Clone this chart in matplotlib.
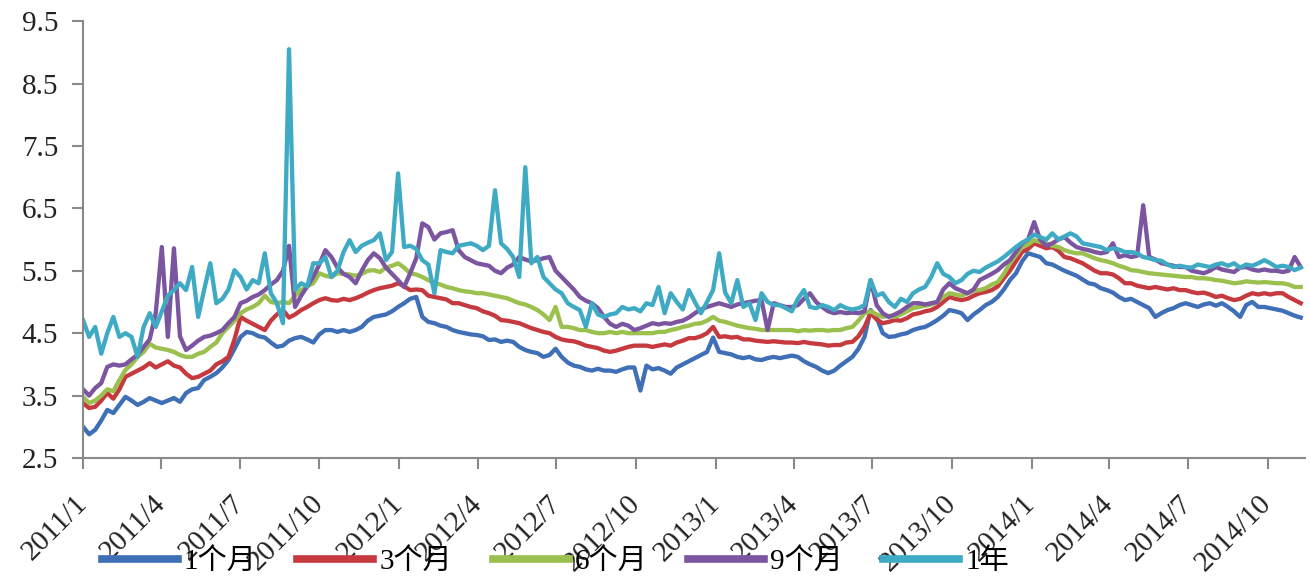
import numpy as np
import pandas as pd
import matplotlib
matplotlib.use('Agg')
import matplotlib.pyplot as plt
import matplotlib.dates as mdates
from matplotlib.ticker import FuncFormatter

# weekly observations, 2011-01-01 .. 2014-11-09
dates = pd.date_range('2011-01-01', periods=202, freq='7D')

m1 = [3.0, 2.88, 2.95, 3.1, 3.27, 3.22, 3.35, 3.48, 3.42, 3.35, 3.4, 3.46, 3.42,
      3.38, 3.42, 3.46, 3.4, 3.54, 3.6, 3.62, 3.75, 3.8, 3.86, 3.95, 4.07, 4.25,
      4.44, 4.52, 4.5, 4.45, 4.43, 4.35, 4.28, 4.3, 4.38, 4.42, 4.44, 4.4, 4.35,
      4.48, 4.55, 4.55, 4.52, 4.55, 4.52, 4.55, 4.6, 4.7, 4.76, 4.78, 4.8, 4.85,
      4.92, 4.98, 5.05, 5.08, 4.76, 4.68, 4.66, 4.62, 4.6, 4.55, 4.52, 4.5, 4.48,
      4.47, 4.45, 4.39, 4.4, 4.36, 4.38, 4.36, 4.28, 4.23, 4.2, 4.18, 4.12, 4.15,
      4.25, 4.12, 4.03, 3.98, 3.96, 3.92, 3.9, 3.93, 3.9, 3.9, 3.88, 3.92, 3.95,
      3.95, 3.58, 3.98, 3.92, 3.94, 3.9, 3.85, 3.95, 4.0, 4.05, 4.1, 4.15, 4.2,
      4.43, 4.2, 4.18, 4.16, 4.12, 4.1, 4.12, 4.08, 4.07, 4.1, 4.12, 4.1, 4.12,
      4.14, 4.12, 4.05, 4.0, 3.96, 3.9, 3.86, 3.9, 3.98, 4.05, 4.12, 4.25, 4.44,
      4.87, 4.75, 4.5, 4.44, 4.45, 4.48, 4.5, 4.55, 4.58, 4.6, 4.65, 4.71, 4.78,
      4.87, 4.85, 4.82, 4.71, 4.8, 4.87, 4.95, 5.0, 5.08, 5.2, 5.35, 5.46, 5.65,
      5.78, 5.75, 5.72, 5.62, 5.6, 5.55, 5.5, 5.46, 5.42, 5.36, 5.3, 5.28, 5.22,
      5.19, 5.15, 5.08, 5.03, 5.05, 5.0, 4.95, 4.9, 4.76, 4.82, 4.87, 4.9, 4.95,
      4.98, 4.95, 4.92, 4.96, 4.98, 4.94, 4.98, 4.92, 4.85, 4.76, 4.95, 5.0, 4.92,
      4.92, 4.9, 4.88, 4.86, 4.82, 4.78, 4.75]

m3 = [3.38, 3.3, 3.32, 3.42, 3.54, 3.45, 3.6, 3.8, 3.85, 3.9, 3.95, 4.02, 3.95,
      4.0, 4.05, 3.98, 3.95, 3.85, 3.78, 3.8, 3.85, 3.9, 4.0, 4.05, 4.12, 4.4,
      4.76, 4.7, 4.65, 4.6, 4.55, 4.7, 4.8, 4.87, 4.75, 4.8, 4.87, 4.92, 4.98,
      5.03, 5.06, 5.03, 5.02, 5.05, 5.03, 5.06, 5.1, 5.15, 5.19, 5.22, 5.24, 5.26,
      5.3, 5.25, 5.19, 5.2, 5.19, 5.1, 5.08, 5.06, 5.04, 4.98, 4.98, 4.95, 4.92,
      4.9, 4.85, 4.82, 4.78, 4.71, 4.7, 4.68, 4.66, 4.62, 4.58, 4.55, 4.52, 4.5,
      4.44, 4.4, 4.38, 4.37, 4.34, 4.3, 4.28, 4.26, 4.22, 4.2, 4.22, 4.25, 4.28,
      4.3, 4.3, 4.3, 4.28, 4.3, 4.32, 4.3, 4.35, 4.38, 4.42, 4.42, 4.45, 4.5,
      4.6, 4.44, 4.45, 4.43, 4.44, 4.4, 4.4, 4.38, 4.37, 4.36, 4.37, 4.36, 4.35,
      4.35, 4.34, 4.36, 4.34, 4.33, 4.32, 4.3, 4.31, 4.31, 4.35, 4.36, 4.45, 4.6,
      4.82, 4.72, 4.66, 4.68, 4.71, 4.7, 4.74, 4.8, 4.82, 4.85, 4.87, 4.92, 5.0,
      5.08, 5.05, 5.03, 5.05, 5.1, 5.14, 5.16, 5.19, 5.25, 5.38, 5.5, 5.65, 5.8,
      5.85, 5.94, 5.9, 5.86, 5.88, 5.82, 5.72, 5.7, 5.66, 5.62, 5.56, 5.5, 5.46,
      5.46, 5.44, 5.38, 5.3, 5.3, 5.26, 5.24, 5.22, 5.24, 5.22, 5.2, 5.22, 5.19,
      5.19, 5.16, 5.14, 5.15, 5.12, 5.08, 5.1, 5.06, 5.03, 5.05, 5.1, 5.14, 5.12,
      5.14, 5.12, 5.14, 5.14, 5.08, 5.03, 4.98]

m6 = [3.48, 3.38, 3.42, 3.5, 3.6, 3.57, 3.75, 3.91, 4.0, 4.12, 4.2, 4.33, 4.27,
      4.25, 4.23, 4.2, 4.15, 4.12, 4.12, 4.17, 4.2, 4.28, 4.35, 4.5, 4.6, 4.7,
      4.82, 4.88, 4.92, 4.98, 5.1, 5.0, 4.98, 5.0, 4.98, 5.1, 5.19, 5.25, 5.3,
      5.46, 5.42, 5.4, 5.46, 5.45, 5.44, 5.42, 5.45, 5.5, 5.51, 5.48, 5.55, 5.58,
      5.62, 5.55, 5.46, 5.44, 5.4, 5.35, 5.3, 5.28, 5.24, 5.22, 5.19, 5.17, 5.16,
      5.14, 5.14, 5.12, 5.1, 5.08, 5.06, 5.02, 4.98, 4.96, 4.92, 4.87, 4.8, 4.71,
      4.92, 4.6, 4.6, 4.58, 4.55, 4.55, 4.52, 4.5, 4.5, 4.52, 4.5, 4.52, 4.5,
      4.5, 4.5, 4.5, 4.5, 4.52, 4.52, 4.55, 4.57, 4.6, 4.62, 4.65, 4.66, 4.7,
      4.76, 4.7, 4.68, 4.65, 4.62, 4.6, 4.58, 4.57, 4.55, 4.55, 4.55, 4.55, 4.55,
      4.55, 4.53, 4.55, 4.54, 4.55, 4.55, 4.54, 4.55, 4.55, 4.58, 4.6, 4.7, 4.82,
      4.85, 4.8, 4.76, 4.78, 4.76, 4.8, 4.85, 4.9, 4.92, 4.94, 4.96, 5.0, 5.08,
      5.14, 5.12, 5.1, 5.14, 5.18, 5.19, 5.22, 5.28, 5.32, 5.45, 5.62, 5.75, 5.88,
      5.92, 5.99, 5.96, 5.94, 5.9, 5.88, 5.83, 5.8, 5.78, 5.78, 5.74, 5.7, 5.67,
      5.65, 5.62, 5.58, 5.55, 5.51, 5.5, 5.48, 5.46, 5.45, 5.44, 5.43, 5.42, 5.41,
      5.4, 5.4, 5.38, 5.38, 5.37, 5.35, 5.34, 5.32, 5.3, 5.31, 5.33, 5.32, 5.31,
      5.32, 5.31, 5.3, 5.3, 5.28, 5.24, 5.24]

m9 = [3.6, 3.5, 3.62, 3.7, 3.96, 4.0, 3.98, 4.0, 4.08, 4.15, 4.28, 4.4, 4.82,
      5.88, 4.44, 5.86, 4.45, 4.23, 4.3, 4.38, 4.44, 4.46, 4.5, 4.55, 4.66, 4.76,
      4.98, 5.02, 5.08, 5.12, 5.19, 5.28, 5.35, 5.5, 5.9, 4.92, 5.1, 5.25, 5.4,
      5.6, 5.83, 5.72, 5.55, 5.45, 5.4, 5.3, 5.5, 5.67, 5.78, 5.7, 5.55, 5.45,
      5.35, 5.24, 5.46, 5.7, 6.26, 6.2, 6.0, 6.1, 6.12, 6.15, 5.83, 5.72, 5.67,
      5.62, 5.6, 5.58, 5.5, 5.46, 5.55, 5.6, 5.72, 5.68, 5.65, 5.67, 5.7, 5.72,
      5.5, 5.4, 5.3, 5.2, 5.08, 5.02, 4.98, 4.9, 4.76, 4.65, 4.6, 4.65, 4.62,
      4.55, 4.58, 4.62, 4.66, 4.64, 4.66, 4.65, 4.68, 4.7, 4.75, 4.82, 4.88, 4.92,
      4.95, 4.98, 4.95, 4.92, 4.96, 4.98, 5.0, 5.02, 5.03, 4.55, 4.98, 4.95, 4.92,
      4.92, 4.95, 5.05, 5.14, 5.0, 4.92, 4.85, 4.82, 4.84, 4.82, 4.83, 4.82, 4.85,
      5.35, 4.95, 4.82, 4.76, 4.8, 4.85, 4.92, 4.98, 4.98, 4.96, 4.98, 5.0, 5.2,
      5.3, 5.22, 5.18, 5.14, 5.2, 5.35, 5.4, 5.45, 5.51, 5.6, 5.67, 5.8, 5.94,
      6.0, 6.28, 6.0, 5.9, 5.94, 6.0, 6.04, 5.95, 5.88, 5.85, 5.83, 5.8, 5.78,
      5.8, 5.94, 5.72, 5.75, 5.72, 5.74, 6.55, 5.72, 5.68, 5.62, 5.6, 5.58, 5.56,
      5.56, 5.5, 5.48, 5.46, 5.5, 5.56, 5.52, 5.5, 5.48, 5.55, 5.56, 5.52, 5.5,
      5.52, 5.5, 5.5, 5.48, 5.5, 5.72, 5.56]

y1 = [4.71, 4.44, 4.6, 4.17, 4.5, 4.76, 4.44, 4.5, 4.44, 4.12, 4.6, 4.82, 4.6,
      4.85, 5.1, 5.19, 5.3, 5.19, 5.56, 4.76, 5.2, 5.62, 4.98, 5.05, 5.2, 5.51,
      5.4, 5.2, 5.35, 5.3, 5.78, 5.14, 4.98, 4.66, 9.05, 5.19, 5.3, 5.25, 5.62,
      5.62, 5.72, 5.4, 5.5, 5.8, 5.99, 5.8, 5.9, 5.95, 5.99, 6.1, 5.67, 5.8,
      7.06, 5.88, 5.9, 5.85, 5.67, 5.6, 5.14, 5.83, 5.8, 5.78, 5.9, 5.92, 5.94,
      5.9, 5.83, 5.9, 6.79, 5.94, 5.85, 5.72, 5.4, 7.16, 5.62, 5.72, 5.4, 5.3,
      5.2, 5.14, 4.98, 4.92, 4.87, 4.6, 4.98, 4.8, 4.76, 4.8, 4.82, 4.92, 4.88,
      4.9, 4.85, 4.98, 4.95, 5.24, 4.82, 5.14, 5.0, 4.88, 5.19, 5.0, 4.82, 5.0,
      5.19, 5.78, 5.15, 4.98, 5.35, 4.92, 4.98, 4.71, 5.14, 5.0, 4.95, 4.95, 4.9,
      4.85, 5.05, 5.19, 4.92, 4.9, 4.95, 4.92, 4.87, 4.95, 4.9, 4.88, 4.9, 4.95,
      5.35, 5.1, 5.14, 5.0, 4.92, 5.05, 5.0, 5.14, 5.2, 5.24, 5.4, 5.62, 5.45,
      5.4, 5.3, 5.35, 5.45, 5.5, 5.48, 5.55, 5.6, 5.65, 5.72, 5.8, 5.88, 5.95,
      6.0, 6.08, 6.04, 6.0, 6.1, 6.0, 6.05, 6.1, 6.05, 5.94, 5.92, 5.9, 5.88,
      5.83, 5.86, 5.84, 5.8, 5.8, 5.78, 5.72, 5.7, 5.67, 5.66, 5.6, 5.56, 5.58,
      5.56, 5.55, 5.6, 5.58, 5.56, 5.6, 5.62, 5.58, 5.62, 5.55, 5.6, 5.58, 5.62,
      5.67, 5.62, 5.56, 5.58, 5.56, 5.51, 5.55]

labels = ['1个月', '3个月', '6个月', '9个月', '1年']
colors = ['#3F6FB6', '#C63A3F', '#9BC04E', '#7B55A0', '#3FAAC4']
series = [m1, m3, m6, m9, y1]

plt.rcParams['font.family'] = ['Liberation Serif', 'Noto Sans CJK SC']
plt.rcParams['font.size'] = 21

fig = plt.figure(figsize=(13.1, 5.84), dpi=100)
ax = fig.add_axes([0.0634, 0.2158, 0.9328, 0.748])

for vals, lab, col in zip(series, labels, colors):
    ax.plot(dates, vals, color=col, linewidth=3.1, label=lab)

ax.set_ylim(2.5, 9.5)
ax.set_yticks(np.arange(2.5, 9.6, 1.0))
ax.yaxis.set_major_formatter(FuncFormatter(lambda v, p: f'{v:.1f}'))
ax.set_xlim(pd.Timestamp('2011-01-01'), pd.Timestamp('2014-11-13'))
ax.xaxis.set_major_locator(mdates.MonthLocator(bymonth=[1, 4, 7, 10]))
ax.xaxis.set_major_formatter(FuncFormatter(
    lambda v, p: f'{mdates.num2date(v).year}/{mdates.num2date(v).month}'))

for s in ['top', 'right']:
    ax.spines[s].set_visible(False)
for s in ['left', 'bottom']:
    ax.spines[s].set_color('#8a8a8a')
    ax.spines[s].set_linewidth(1.5)
ax.tick_params(axis='both', direction='out', length=8, width=1.5, color='#8a8a8a',
               labelcolor='#222222')
ax.tick_params(axis='y', pad=10)
ax.tick_params(axis='x', pad=22)
for t in ax.get_xticklabels():
    t.set_rotation(45)
    t.set_ha('right')
    t.set_va('center')
    t.set_rotation_mode('anchor')

leg = fig.legend(loc='center', bbox_to_anchor=(0.424, 0.038), ncol=5, frameon=False,
                 handlelength=2.6, handletextpad=0.2, columnspacing=1.4,
                 fontsize=21)
for ln in leg.get_lines():
    ln.set_linewidth(5.5)

fig.savefig('out.png', dpi=100, facecolor='white')
